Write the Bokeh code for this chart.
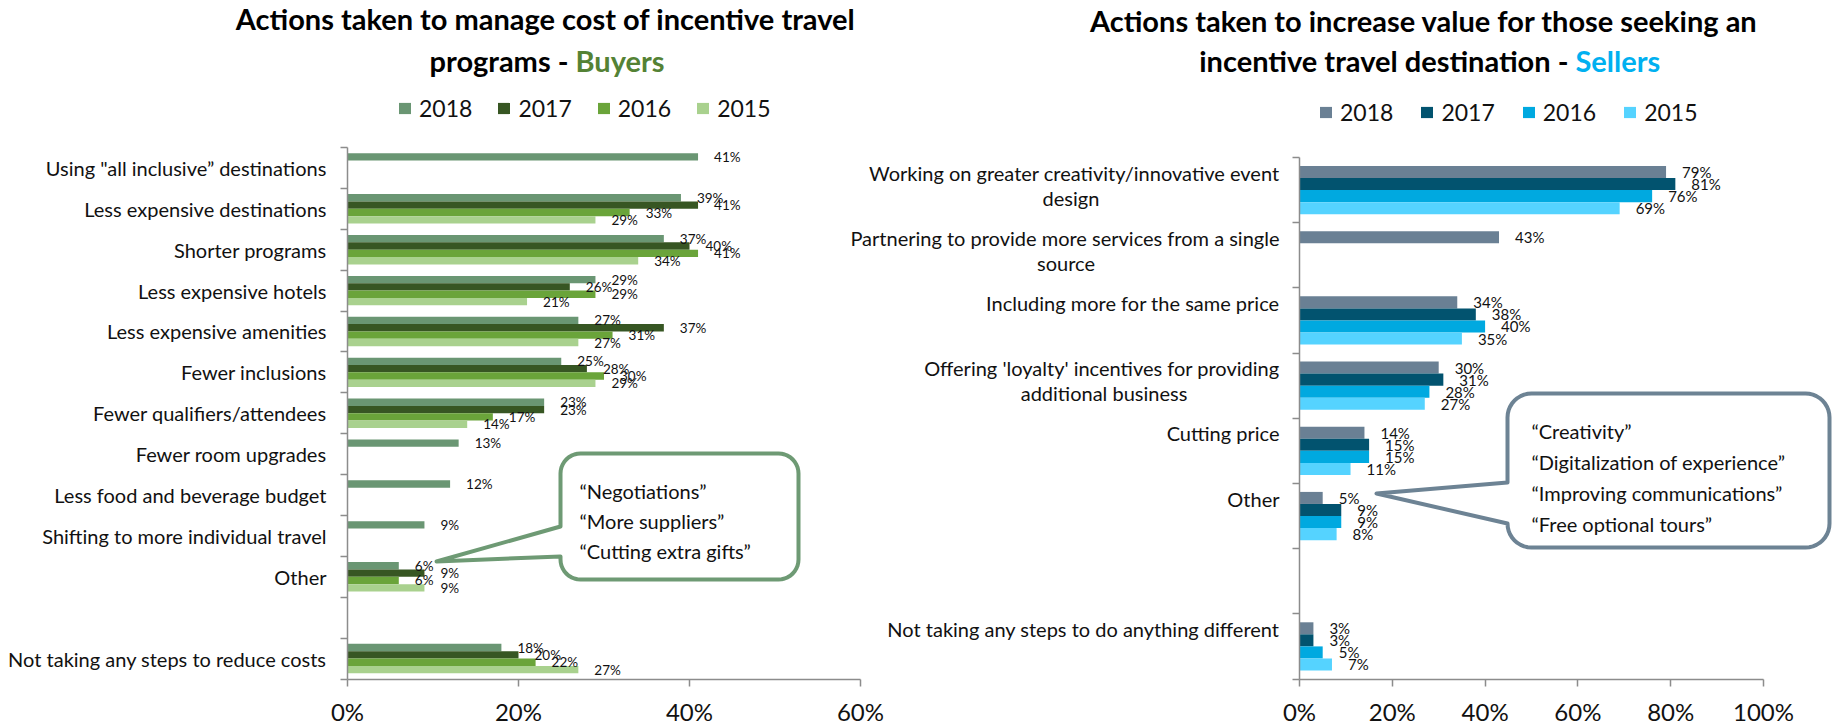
import math
from bokeh.plotting import figure
from bokeh.models import (Range1d, LinearAxis, FixedTicker, PrintfTickFormatter,
                          Legend, LegendItem, ColumnDataSource)
from bokeh.core.properties import value
from bokeh.embed import file_html
from bokeh.resources import INLINE

# ---------------- data ----------------
years = ["2018", "2017", "2016", "2015"]

buyer_categories = [
    'Using "all inclusive\u201d destinations',
    "Less expensive destinations",
    "Shorter programs",
    "Less expensive hotels",
    "Less expensive amenities",
    "Fewer inclusions",
    "Fewer qualifiers/attendees",
    "Fewer room upgrades",
    "Less food and beverage budget",
    "Shifting to more individual travel",
    "Other",
    "",
    "Not taking any steps to reduce costs",
]
buyer_2018 = [41, 39, 37, 29, 27, 25, 23, 13, 12, 9, 6, None, 18]
buyer_2017 = [None, 41, 40, 26, 37, 28, 23, None, None, None, 9, None, 20]
buyer_2016 = [None, 33, 41, 29, 31, 30, 17, None, None, None, 6, None, 22]
buyer_2015 = [None, 29, 34, 21, 27, 29, 14, None, None, None, 9, None, 27]

seller_categories = [
    ["Working on greater creativity/innovative event", "design"],
    ["Partnering to provide more services from a single", "source"],
    ["Including more for the same price"],
    ["Offering 'loyalty' incentives for providing", "additional business"],
    ["Cutting price"],
    ["Other"],
    [""],
    ["Not taking any steps to do anything different"],
]
seller_2018 = [79, 43, 34, 30, 14, 5, None, 3]
seller_2017 = [81, None, 38, 31, 15, 9, None, 3]
seller_2016 = [76, None, 40, 28, 15, 9, None, 5]
seller_2015 = [69, None, 35, 27, 11, 8, None, 7]

buyer_ticks = [0, 20, 40, 60]
seller_ticks = [0, 20, 40, 60, 80, 100]

buyer_notes = ["\u201cNegotiations\u201d", "\u201cMore suppliers\u201d", "\u201cCutting extra gifts\u201d"]
seller_notes = ["\u201cCreativity\u201d", "\u201cDigitalization of experience\u201d",
                "\u201cImproving communications\u201d", "\u201cFree optional tours\u201d"]

# ---------------- style ----------------
FONT_NAME = "Lato"
FONT = value(FONT_NAME)
buyer_colors = ["#6A9673", "#375623", "#6AA43A", "#A9D18E"]
seller_colors = ["#6A8094", "#02536F", "#00A9E0", "#55D3FF"]
AXIS_COLOR = "#8C8C8C"
TEXT_COLOR = "#111111"
W, H = 1837, 725


def callout_points(x0, y0, x1, y1, r, by0, by1, tip, n=10):
    pts = []

    def arc(cx, cy, a0, a1):
        for j in range(n + 1):
            a = a0 + (a1 - a0) * j / n
            pts.append((cx + r * math.cos(a), cy + r * math.sin(a)))

    arc(x0 + r, y0 + r, math.pi, 1.5 * math.pi)
    arc(x1 - r, y0 + r, 1.5 * math.pi, 2 * math.pi)
    arc(x1 - r, y1 - r, 0.0, 0.5 * math.pi)
    arc(x0 + r, y1 - r, 0.5 * math.pi, math.pi)
    pts.append((x0, by1))
    pts.append(tip)
    pts.append((x0, by0))
    return pts


U1 = (678.5 - 147.0) / 13
U2 = (678.5 - 157.0) / 8


def lx(px): return (px - 347.0) / 8.55
def ly(py): return (678.5 - py) / U1
def rx(px): return (px - 1299.0) / 4.64
def ry(py): return (678.5 - py) / U2


p = figure(width=W, height=H, output_backend="svg", toolbar_location=None,
           x_range=Range1d(lx(0), lx(W)), y_range=Range1d(ly(H), ly(0)),
           x_axis_location=None, y_axis_location=None, min_border=0,
           min_border_left=0, min_border_right=0, min_border_top=0, min_border_bottom=0)
p.extra_x_ranges = {"r": Range1d(rx(0), rx(W))}
p.extra_y_ranges = {"r": Range1d(ry(H), ry(0))}
p.outline_line_color = None
p.background_fill_color = "white"
p.border_fill_color = "white"
p.xgrid.visible = False
p.ygrid.visible = False


def make_chart(cfg):
    fx = cfg["fx"]
    fy = cfg["fy"]
    rn = dict(x_range_name=cfg["xr"], y_range_name=cfg["yr"])
    n = len(cfg["cats"])

    # axes
    xaxis = LinearAxis(fixed_location=0, ticker=FixedTicker(ticks=cfg["ticks"]),
                       formatter=PrintfTickFormatter(format="%d%%"),
                       bounds=(0, cfg["ticks"][-1]), **rn)
    xaxis.axis_line_color = AXIS_COLOR
    xaxis.axis_line_width = 1.5
    xaxis.major_tick_line_color = AXIS_COLOR
    xaxis.major_tick_line_width = 1.5
    xaxis.major_tick_out = 7
    xaxis.major_tick_in = 0
    xaxis.minor_tick_out = 0
    xaxis.minor_tick_in = 0
    xaxis.major_label_standoff = 11
    xaxis.major_label_text_font = FONT_NAME
    xaxis.major_label_text_font_size = "24px"
    xaxis.major_label_text_color = TEXT_COLOR
    p.add_layout(xaxis, "below")

    yaxis = LinearAxis(fixed_location=0,
                       ticker=FixedTicker(ticks=[], minor_ticks=list(range(n + 1))),
                       bounds=(0, n), **rn)
    yaxis.axis_line_color = AXIS_COLOR
    yaxis.axis_line_width = 1.5
    yaxis.minor_tick_line_color = AXIS_COLOR
    yaxis.minor_tick_line_width = 1.5
    yaxis.minor_tick_out = 7
    yaxis.minor_tick_in = 0
    yaxis.major_tick_out = 0
    yaxis.major_tick_in = 0
    p.add_layout(yaxis, "left")

    # bars
    offsets = cfg["offsets"]
    renderers = []
    label_x, label_y, label_t = [], [], []
    for k, (yr, series, color) in enumerate(zip(years, cfg["series"], cfg["colors"])):
        ys, vs = [], []
        for i, v in enumerate(series):
            if v is None:
                continue
            ys.append(n - i - 0.5 + offsets[k])
            vs.append(v)
            label_x.append(v)
            label_y.append(n - i - 0.5 + offsets[k])
            label_t.append(f"{v}%")
        src = ColumnDataSource(dict(y=ys, right=vs))
        r = p.hbar(y="y", left=0, right="right", height=cfg["bar_h"], source=src,
                   fill_color=color, line_color=None, **rn)
        renderers.append(r)

    # callout
    pts = callout_points(*cfg["callout"])
    p.patch([fx(a) for a, b in pts], [fy(b) for a, b in pts], fill_color="white",
            line_color=cfg["callout_color"], line_width=4, line_join="round", **rn)
    nx, nys = cfg["note_pos"]
    p.text([fx(nx)] * len(cfg["notes"]), [fy(v) for v in nys], text=cfg["notes"],
           text_font=FONT, text_font_size=cfg["note_size"], text_color=TEXT_COLOR,
           text_align="left", text_baseline="middle", **rn)

    # value labels
    p.text(label_x, label_y, text=label_t, x_offset=16, text_font=FONT,
           text_font_size=cfg["val_size"], text_color=TEXT_COLOR,
           text_align="left", text_baseline="middle", **rn)

    # category labels
    c1x, c1y, c1t = [], [], []
    c2x, c2y, c2t = [], [], []
    for i, lab in enumerate(cfg["cats"]):
        lines = lab if isinstance(lab, list) else [lab]
        if not lines[0]:
            continue
        c1x.append(0)
        c1y.append(n - i - 0.5)
        c1t.append(lines[0])
        if len(lines) > 1:
            c2x.append(fx(cfg["second_line_x"][i]))
            c2y.append(n - i - 0.5)
            c2t.append(lines[1])
    p.text(c1x, c1y, text=c1t, x_offset=cfg["cat_dx"], y_offset=cfg["cat_dy1"],
           text_font=FONT, text_font_size=cfg["cat_size"], text_color=TEXT_COLOR,
           text_align="right", text_baseline="middle", **rn)
    if c2t:
        p.text(c2x, c2y, text=c2t, y_offset=cfg["cat_dy2"],
               text_font=FONT, text_font_size=cfg["cat_size"], text_color=TEXT_COLOR,
               text_align="center", text_baseline="middle", **rn)

    # title
    t = cfg["title"]
    p.text([fx(t["cx"])], [fy(t["y1"])], text=[t["line1"]], text_font=FONT,
           text_font_size=t["size"], text_font_style="bold", text_color="#000000",
           text_align="center", text_baseline="middle", **rn)
    p.text([fx(t["split_l"])], [fy(t["y2"])], text=[t["line2a"]], text_font=FONT,
           text_font_size=t["size"], text_font_style="bold", text_color="#000000",
           text_align="right", text_baseline="middle", **rn)
    p.text([fx(t["split_r"])], [fy(t["y2"])], text=[t["line2b"]], text_font=FONT,
           text_font_size=t["size"], text_font_style="bold", text_color=t["color"],
           text_align="left", text_baseline="middle", **rn)

    # legend
    items = [LegendItem(label=yr, renderers=[r]) for yr, r in zip(years, renderers)]
    lg = Legend(items=items, orientation="horizontal", location=cfg["legend_loc"],
                padding=0, margin=0, spacing=cfg["legend_spacing"], glyph_width=15,
                glyph_height=14, label_standoff=7, label_height=14,
                label_text_font=FONT_NAME, label_text_font_size="23px",
                label_text_color=TEXT_COLOR, border_line_color=None,
                background_fill_alpha=0)
    p.add_layout(lg)


left_cfg = dict(
    xr="default", yr="default", fx=lx, fy=ly,
    cats=buyer_categories,
    series=[buyer_2018, buyer_2017, buyer_2016, buyer_2015],
    colors=buyer_colors, ticks=buyer_ticks,
    offsets=[0.27, 0.09, -0.09, -0.27], bar_h=0.18,
    callout=(560, 453, 798, 579, 20, 526, 556, (436, 561)),
    callout_color="#6E9A74",
    notes=buyer_notes, note_pos=(579, [490, 520, 550]), note_size="20px",
    val_size="13.5px",
    cat_dx=-21, cat_dy1=0, cat_dy2=0, cat_size="20px", second_line_x={},
    title=dict(cx=545, y1=18, y2=59.5, line1="Actions taken to manage cost of incentive travel",
               line2a="programs -", line2b="Buyers", split_l=568, split_r=575,
               color="#548235", size="29px"),
    legend_loc=(397, 603), legend_spacing=24,
)

right_cfg = dict(
    xr="r", yr="r", fx=rx, fy=ry,
    cats=seller_categories,
    series=[seller_2018, seller_2017, seller_2016, seller_2015],
    colors=seller_colors, ticks=seller_ticks,
    offsets=[0.2775, 0.0925, -0.0925, -0.2775], bar_h=0.185,
    callout=(1507, 393, 1829, 547, 24, 482, 523, (1376, 493)),
    callout_color="#6D8394",
    notes=seller_notes, note_pos=(1531, [430, 461, 492, 523]), note_size="20px",
    val_size="15px",
    cat_dx=-20, cat_dy1=-17.5, cat_dy2=7.5, cat_size="20px",
    second_line_x={0: 1070.5, 1: 1065.5, 3: 1103.5},
    title=dict(cx=1423.5, y1=19.5, y2=59.5,
               line1="Actions taken to increase value for those seeking an",
               line2a="incentive travel destination -", line2b="Sellers",
               split_l=1568, split_r=1575, color="#00B0F0", size="29px"),
    legend_loc=(1318, 599), legend_spacing=26,
)

make_chart(left_cfg)
make_chart(right_cfg)

open("out.html", "w").write(file_html(p, INLINE))
